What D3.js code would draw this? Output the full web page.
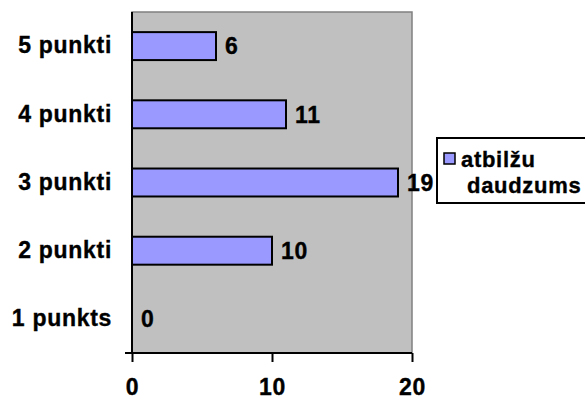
<!DOCTYPE html>
<html>
<head>
<meta charset="utf-8">
<script src="https://cdn.jsdelivr.net/npm/d3@7"></script>
<style>
  body { margin: 0; background: #fff; }
  text { font-family: Arial, "Liberation Sans", sans-serif; font-weight: bold; fill: #000;
         stroke: #000; stroke-width: 0.35px; letter-spacing: 0.7px; }
</style>
</head>
<body>
<div id="chart"></div>
<script>
// Data
var categories = ["5 punkti", "4 punkti", "3 punkti", "2 punkti", "1 punkts"];
var values = [6, 11, 19, 10, 0];
var xTicks = [0, 10, 20];
var seriesName = ["atbilžu", "daudzums"];

// Sizing
var svgWidth = 585, svgHeight = 401;
var plot = { left: 132, right: 412, top: 12, bottom: 353 };
var fontSize = 23;

var svg = d3.select("#chart").append("svg")
  .attr("width", svgWidth)
  .attr("height", svgHeight);

var x = d3.scaleLinear().domain([0, 20]).range([plot.left, plot.right]);
var y = d3.scaleBand().domain(categories)
  .range([plot.top, plot.bottom])
  .paddingInner(0.59)
  .paddingOuter(0.295);

// plot area
svg.append("rect")
  .attr("x", plot.left).attr("y", plot.top)
  .attr("width", plot.right - plot.left)
  .attr("height", plot.bottom - plot.top)
  .attr("fill", "#c0c0c0")
  .attr("stroke", "#808080")
  .attr("stroke-width", 1.5);

// bars
svg.selectAll("rect.bar")
  .data(values)
  .enter().append("rect")
  .attr("class", "bar")
  .attr("x", x(0))
  .attr("y", (d, i) => y(categories[i]))
  .attr("width", d => x(d) - x(0))
  .attr("height", y.bandwidth())
  .attr("fill", "#9999ff")
  .attr("stroke", d => d > 0 ? "#000" : "none")
  .attr("stroke-width", 2);

// value labels
svg.selectAll("text.val")
  .data(values)
  .enter().append("text")
  .attr("class", "val")
  .attr("x", d => x(d) + 9)
  .attr("y", (d, i) => y(categories[i]) + y.bandwidth() / 2)
  .attr("dy", "0.36em")
  .attr("font-size", fontSize)
  .text(d => d);

// x axis
var xAxis = svg.append("g")
  .attr("transform", `translate(0, ${plot.bottom})`)
  .call(d3.axisBottom(x).tickValues(xTicks).tickSize(9).tickPadding(17));
xAxis.select(".domain").remove();
xAxis.selectAll("line").attr("stroke", "#000").attr("stroke-width", 2);
xAxis.selectAll("text").attr("font-size", fontSize).attr("font-family", null);

svg.append("line")
  .attr("x1", 125).attr("x2", plot.right)
  .attr("y1", plot.bottom).attr("y2", plot.bottom)
  .attr("stroke", "#000").attr("stroke-width", 2);

// y axis
var yAxis = svg.append("g")
  .attr("transform", `translate(${plot.left}, 0)`)
  .call(d3.axisLeft(y).tickSize(0).tickPadding(20));
yAxis.select(".domain").remove();
yAxis.selectAll("text").attr("font-size", fontSize).attr("font-family", null);

svg.append("line")
  .attr("x1", plot.left).attr("x2", plot.left)
  .attr("y1", plot.top).attr("y2", plot.bottom)
  .attr("stroke", "#000").attr("stroke-width", 2);

// legend
var legend = svg.append("g");
legend.append("rect")
  .attr("x", 437).attr("y", 138)
  .attr("width", 170).attr("height", 65)
  .attr("fill", "#fff").attr("stroke", "#000").attr("stroke-width", 2);
legend.append("rect")
  .attr("x", 444).attr("y", 153)
  .attr("width", 11).attr("height", 11)
  .attr("fill", "#9999ff").attr("stroke", "#000").attr("stroke-width", 1.5);
legend.selectAll("text.leg")
  .data(seriesName)
  .enter().append("text")
  .attr("class", "leg")
  .attr("x", (d, i) => i === 0 ? 461 : 467)
  .attr("y", (d, i) => 167 + i * 26)
  .attr("font-size", 22)
  .text(d => d);
</script>
</body>
</html>
